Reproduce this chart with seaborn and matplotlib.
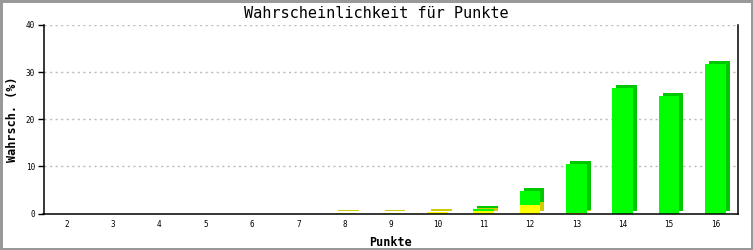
import matplotlib
matplotlib.use("Agg")
import matplotlib.pyplot as plt
import matplotlib.transforms as mtransforms
import seaborn as sns
import pandas as pd

# ---- data ----
punkte = ["2", "3", "4", "5", "6", "7", "8", "9", "10", "11", "12", "13", "14", "15", "16"]
gelb = [0, 0, 0, 0, 0, 0, 0.1, 0.1, 0.3, 0.6, 1.9, 0.2, 0, 0, 0]
gruen = [0, 0, 0, 0, 0, 0, 0, 0, 0, 0.4, 2.9, 10.2, 26.7, 25.0, 31.8]
y_ticks = [0, 10, 20, 30, 40]

title = "Wahrscheinlichkeit für Punkte"
xlabel = "Punkte"
ylabel = "Wahrsch. (%)"

total = [g + y for g, y in zip(gruen, gelb)]
df = pd.DataFrame({"Punkte": punkte, "gelb": gelb, "gruen": gruen, "total": total})

sns.set_theme(style="white")
plt.rcParams["font.family"] = ["DejaVu Sans Mono", "DejaVu Sans"]

DPI = 100
fig = plt.figure(figsize=(7.53, 2.5), dpi=DPI)
fig.patch.set_facecolor("white")
fig.patch.set_edgecolor("#999999")
fig.patch.set_linewidth(2.5)
ax = fig.add_axes([43.5 / 753, 36.5 / 250, (738.5 - 43.5) / 753, (213.5 - 25) / 250])

offset = mtransforms.ScaledTranslation(4 / DPI, 3 / DPI, fig.dpi_scale_trans)
WIDTH = 0.45


def bars(col, color, z, shifted):
    n0 = len(ax.patches)
    sns.barplot(data=df, x="Punkte", y=col, order=punkte, color=color,
                saturation=1, width=WIDTH, ax=ax, zorder=z, linewidth=0,
                errorbar=None)
    for p in ax.patches[n0:]:
        p.set_zorder(z)
        if shifted:
            p.set_transform(ax.transData + offset)


bars("total", "#00c800", 2, True)
bars("gelb", "#cccc00", 3, True)
bars("total", "#00ff00", 4, False)
bars("gelb", "#ffff00", 5, False)

ax.set_ylim(0, 40)
ax.set_xlim(-0.5, len(punkte) - 0.5)
ax.set_yticks(y_ticks)
ax.set_yticklabels([str(v) for v in y_ticks])

for v in y_ticks[1:]:
    ax.axhline(v, color="#bbbbbb", linewidth=1.0, linestyle=(0, (1.5, 2.5)), zorder=1)

for s in ["left", "bottom", "right"]:
    ax.spines[s].set_visible(True)
    ax.spines[s].set_color("black")
    ax.spines[s].set_linewidth(1.1)
    ax.spines[s].set_zorder(6)
ax.spines["top"].set_visible(False)

ax.tick_params(axis="y", left=True, length=4, width=1, color="black", pad=2,
               labelsize=5.5, labelcolor="black")
ax.tick_params(axis="x", bottom=False, length=0, pad=5, labelsize=5.5, labelcolor="black")

ax.set_xlabel(xlabel, fontsize=8.5, fontweight="bold", color="black", labelpad=5)
ax.set_ylabel(ylabel, fontsize=8.5, fontweight="bold", color="black")
ax.yaxis.set_label_coords((19 - 43.5) / 695, 0.5)
fig.text(0.5, 1 - 13 / 250, title, ha="center", va="center", fontsize=11, color="black")

fig.savefig("out.png", dpi=DPI, facecolor="white", edgecolor="#999999")
